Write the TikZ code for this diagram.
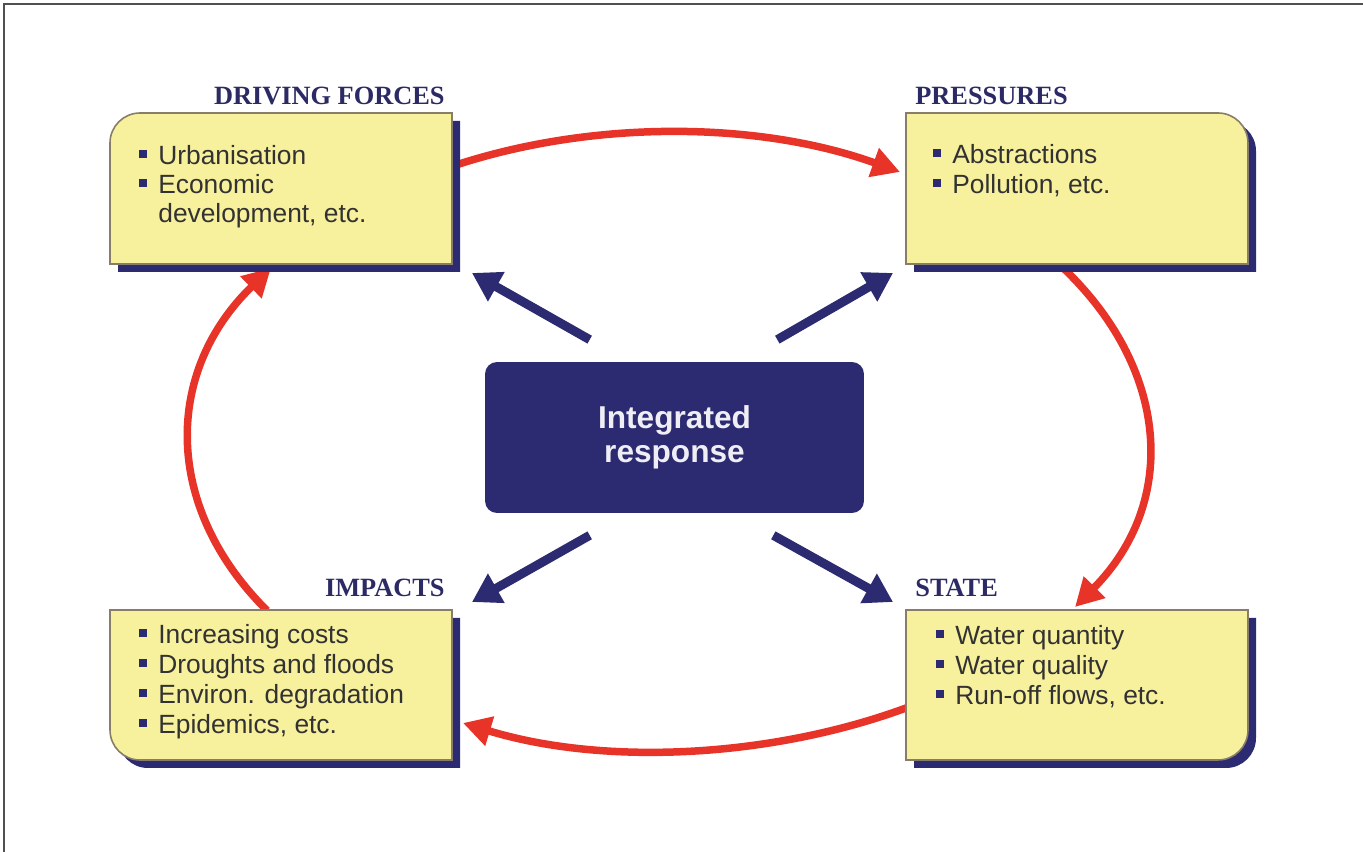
\documentclass[tikz,border=0pt]{standalone}
\usepackage{fontspec}
\setmainfont{Liberation Serif}
\setsansfont{Liberation Sans}
\usetikzlibrary{arrows.meta}
\definecolor{navy}{RGB}{44,42,112}
\definecolor{boxyellow}{RGB}{247,240,156}
\definecolor{boxedge}{RGB}{135,125,105}
\definecolor{arrowred}{RGB}{232,52,40}
\definecolor{bodytext}{RGB}{50,50,50}
\definecolor{titlecol}{RGB}{44,42,100}
\definecolor{framecol}{RGB}{80,80,80}
\newcommand\bul{\makebox[10.8pt][l]{\textcolor{navy}{\rule[4.2pt]{4.3pt}{4.3pt}}}}
\def\dfpath{(452,588) -- (110,588) -- (110,709) arc[start angle=180,end angle=90,radius=0.6cm] -- (452,739) -- cycle}
\def\prpath{(906,588) -- (906,739) -- (1218,739) arc[start angle=90,end angle=0,radius=0.6cm] -- (1248,588) -- cycle}
\def\impath{(110,242) -- (452,242) -- (452,92) -- (140,92) arc[start angle=270,end angle=180,radius=0.6cm] -- cycle}
\def\stpath{(906,242) -- (1248,242) -- (1248,122) arc[start angle=0,end angle=-90,radius=0.6cm] -- (906,92) -- cycle}
\begin{document}
\begin{tikzpicture}[x=0.02cm,y=0.02cm,
  boxfill/.style={fill=boxyellow, draw=boxedge, line width=0.9pt},
  boxshadow/.style={fill=navy, shift={(8,-8)}},
  boxarea/.style={inner sep=0pt, outer sep=0pt, minimum width=6.84cm, minimum height=3.02cm},
  titletext/.style={inner sep=0pt, text=titlecol, font=\rmfamily\bfseries\fontsize{15}{18}\selectfont},
  item/.style={anchor=base west, inner sep=0pt, text=bodytext, font=\sffamily\fontsize{15}{17}\selectfont},
  redarrow/.style={draw=arrowred, line width=0.15cm, -{Triangle[length=0.56cm,width=0.58cm]}},
  bluearrow/.style={draw=navy, line width=0.18cm, -{Triangle[length=0.56cm,width=0.64cm]}},
  centrebox/.style={fill=navy, rounded corners=0.24cm, minimum width=7.58cm, minimum height=3.02cm,
    inner sep=0pt, text=white!92!navy, align=center, font=\sffamily\bfseries\fontsize{18}{19.5}\selectfont}]
\useasboundingbox (0,0) rectangle (1363,852);
\fill[white] (0,0) rectangle (1363,852);
\draw[framecol, line width=1.2pt] (4,0) -- (4,848) -- (1363,848);

% named areas of the four boxes
\node[boxarea] (df) at (281,663.5) {};
\node[boxarea] (pr) at (1077,663.5) {};
\node[boxarea] (im) at (281,167) {};
\node[boxarea] (st) at (1077,167) {};

% red cycle arrows (under the boxes), all on one ellipse
\draw[redarrow] ([shift={(4,23.5)}]df.east) .. controls (597,733) and (761,730) .. ([shift={(-6,16.5)}]pr.west);
\draw[redarrow] ([shift={(-17,-1)}]pr.south) .. controls (1170,484.5) and (1179,350) .. ([shift={(-2,2.5)}]st.north);
\draw[redarrow] ([shift={(0,-23)}]st.west) .. controls (770,94) and (604,86) .. ([shift={(11,-38)}]im.east);
\draw[redarrow] ([shift={(-14,-1)}]im.north) .. controls (162,346) and (164.5,481) .. ([shift={(-10,-4)}]df.south);

% boxes
\fill[boxshadow] \dfpath;
\path[boxfill] \dfpath;
\fill[boxshadow] \prpath;
\path[boxfill] \prpath;
\fill[boxshadow] \impath;
\path[boxfill] \impath;
\fill[boxshadow] \stpath;
\path[boxfill] \stpath;

% titles
\node[titletext, anchor=base east] (dft) at (445,747) {DRIVING FORCES};
\node[titletext, anchor=base west] (prt) at (915,747) {PRESSURES};
\node[titletext, anchor=base east] (imt) at (445,255) {IMPACTS};
\node[titletext, anchor=base west] (stt) at (915,255) {STATE};

% items
\node[item] (df1) at (139,687) {\bul Urbanisation};
\node[item] (df2) at (139,658) {\bul Economic};
\node[item] (df3) at (158,629) {development, etc.};
\node[item] (pr1) at (933,688) {\bul Abstractions};
\node[item] (pr2) at (933,658) {\bul Pollution, etc.};
\node[item] (im1) at (139,208) {\bul Increasing costs};
\node[item] (im2) at (139,178) {\bul Droughts and floods};
\node[item] (im3) at (139,148) {\bul Environ. degradation};
\node[item] (im4) at (139,118) {\bul Epidemics, etc.};
\node[item] (st1) at (936,207) {\bul Water quantity};
\node[item] (st2) at (936,177) {\bul Water quality};
\node[item] (st3) at (936,147) {\bul Run-off flows, etc.};

% centre
\node[centrebox] (cr) at (674.5,414.5) {Integrated\\response};

% blue arrows
\draw[bluearrow] ([shift={(105,22)}]cr.north west) -- ([shift={(20,-9)}]df.south east);
\draw[bluearrow] ([shift={(-87,22)}]cr.north east) -- ([shift={(-13,-9)}]pr.south west);
\draw[bluearrow] ([shift={(105,-22)}]cr.south west) -- ([shift={(20,7.5)}]im.north east);
\draw[bluearrow] ([shift={(-91,-22)}]cr.south east) -- ([shift={(-13,7.5)}]st.north west);
\end{tikzpicture}
\end{document}
